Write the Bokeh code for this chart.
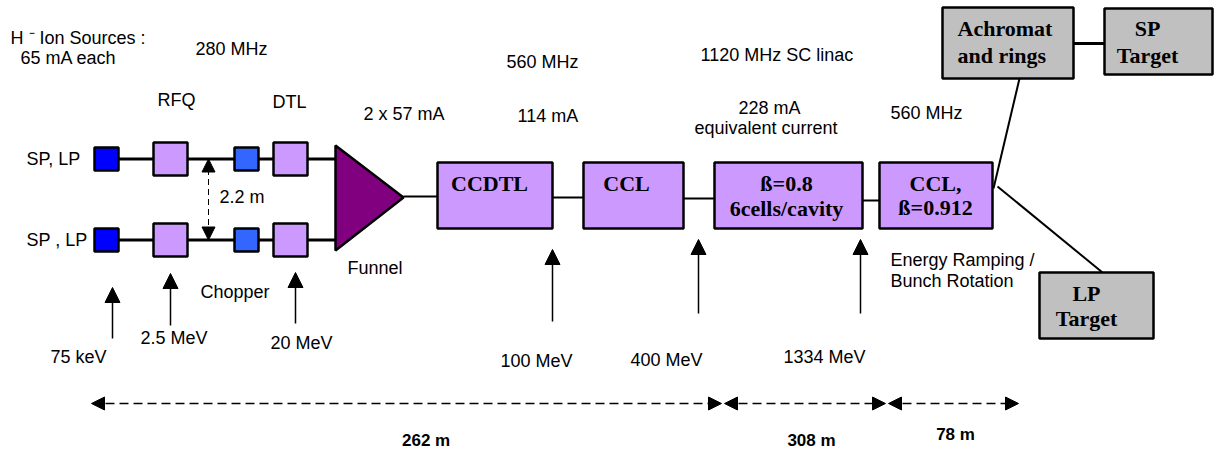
from bokeh.plotting import figure
from bokeh.models import Range1d, Arrow, NormalHead
from bokeh.core.properties import value
from bokeh.embed import file_html
from bokeh.resources import INLINE

# ---------------- content ----------------
ion_source_text = ["H \u207b Ion Sources :", "65 mA each"]
beam_labels = ["SP, LP", "SP , LP"]
front_end_names = ["RFQ", "DTL"]
frequencies = ["280 MHz", "560 MHz", "1120 MHz SC linac", "560 MHz"]
currents = ["2  x 57 mA", "114 mA", "228 mA", "equivalent current"]
energies = ["75 keV", "2.5 MeV", "20 MeV", "100 MeV", "400  MeV", "1334 MeV"]
linac_sections = [["CCDTL"], ["CCL"], ["\u00df=0.8", "6cells/cavity"], ["CCL,", "\u00df=0.912"]]
target_boxes = [["Achromat", "and rings"], ["SP", "Target"], ["LP", "Target"]]
section_lengths = ["262  m", "308 m", "78 m"]
misc_labels = ["2.2 m", "Funnel", "Chopper", "Energy Ramping /", "Bunch Rotation"]

# ---------------- layout (picture pixel coordinates) ----------------
ROWS = [158.5, 239.5]
SRC_X, RFQ_X, CHOP_X, DTL_X = 106, 170, 246, 290
SMALL, BIG = 24, 34
FUNNEL_X, FUNNEL_Y = [335, 335, 403], [145, 250, 197]
LINAC_X = [(437, 552), (583, 683), (714, 862), (879, 992)]
LINAC_Y = (162, 228)
LINAC_LINK_Y = [196, 197, 198, 200]
LINAC_TEXT = [(489, [183]), (626, [183]), (786, [183, 208]), (935, [183, 207])]
TARGET_RECT = [(942, 1073, 7, 78), (1104, 1212, 8, 74), (1039, 1153, 272, 338)]
TARGET_TEXT = [(957, "left"), (1147, "center"), (1086, "center")]
TARGET_TEXT_Y = [[28, 55], [28, 55], [293, 318]]
ENERGY_X = [112, 170, 295, 552, 698, 860]
ENERGY_TIP = [287, 273, 272, 249, 239, 239]
ENERGY_TAIL = [338, 325, 323, 321, 313, 313]
ENERGY_LABEL = [(50, 356), (140, 337), (270, 342), (500, 360), (630, 359), (783, 356)]
DIM_Y = 403
DIM_SEG = [(91, 721), (724, 885), (888, 1018)]
DIM_LABEL = [(428, 440), (811, 440), (955, 434)]

SANS = "Liberation Sans"
SERIF = "Liberation Serif"
FS = "18px"
BFS = "22px"

W, H = 1217, 452
p = figure(width=W, height=H, x_range=Range1d(0, W), y_range=Range1d(H, 0),
           output_backend="svg", toolbar_location=None, min_border=0,
           x_axis_location=None, y_axis_location=None)
p.grid.visible = False
p.outline_line_color = None
p.background_fill_color = "white"
p.border_fill_color = "white"


def txt(xs, ys, texts, size=FS, font=SANS, style="normal", align="left"):
    p.text(x=xs, y=ys, text=texts, text_font=value(font), text_font_size=size,
           text_font_style=style, text_align=align, text_baseline="middle",
           text_color="black")


def boxes(cx, cy, w, h, color, lw=2.5):
    p.rect(x=cx, y=cy, width=w, height=h, fill_color=color, line_color="black",
           line_width=lw)


def head(size):
    return NormalHead(size=size, fill_color="black", line_color="black", line_width=1)


# beam lines of the two front ends
for y in ROWS:
    p.line(x=[SRC_X, FUNNEL_X[0]], y=[y, y], line_color="black", line_width=3)
# funnel
p.patch(x=FUNNEL_X, y=FUNNEL_Y, fill_color="#800080", line_color="black", line_width=2.5)
# links between linac sections
link_starts = [FUNNEL_X[2]] + [r for (_, r) in LINAC_X[:-1]]
for xs, (l, _), y in zip(link_starts, LINAC_X, LINAC_LINK_Y):
    p.line(x=[xs, l], y=[y, y], line_color="black", line_width=2)

# front-end boxes
for y in ROWS:
    boxes([SRC_X], [y], SMALL, 23, "#0000FF")
    boxes([CHOP_X], [y], SMALL, 23, "#3366FF")
    boxes([RFQ_X, DTL_X], [y, y], BIG, 33, "#CC99FF")

# linac boxes
p.quad(left=[a for a, _ in LINAC_X], right=[b for _, b in LINAC_X],
       top=[LINAC_Y[0]] * 4, bottom=[LINAC_Y[1]] * 4,
       fill_color="#CC99FF", line_color="black", line_width=2.5)

# lines to targets
p.line(x=[993, 1019], y=[188, 78], line_color="black", line_width=2)
p.line(x=[997, 1102], y=[186, 272], line_color="black", line_width=2)
p.line(x=[1073, 1104], y=[43, 43], line_color="black", line_width=3)

# target boxes
p.quad(left=[r[0] for r in TARGET_RECT], right=[r[1] for r in TARGET_RECT],
       top=[r[2] for r in TARGET_RECT], bottom=[r[3] for r in TARGET_RECT],
       fill_color="#C0C0C0", line_color="black", line_width=2.5)

# box texts
for (x, ys), lines in zip(LINAC_TEXT, linac_sections):
    txt([x] * len(lines), ys, lines, size=BFS, font=SERIF, style="bold", align="center")
for (x, al), ys, lines in zip(TARGET_TEXT, TARGET_TEXT_Y, target_boxes):
    txt([x] * len(lines), ys, lines, size=BFS, font=SERIF, style="bold", align=al)

# energy arrows
for x, tip, tail in zip(ENERGY_X, ENERGY_TIP, ENERGY_TAIL):
    p.add_layout(Arrow(end=head(15), x_start=x, y_start=tail, x_end=x, y_end=tip,
                       line_color="black", line_width=1.5))
txt([a for a, _ in ENERGY_LABEL], [b for _, b in ENERGY_LABEL], energies)

# 2.2 m separation
p.add_layout(Arrow(start=head(13), end=head(13),
                   x_start=208, y_start=ROWS[0], x_end=208, y_end=ROWS[1],
                   line_color="black", line_width=1, line_dash="6 4"))

# dimension line
for a, b in DIM_SEG:
    p.add_layout(Arrow(start=head(13), end=head(13),
                       x_start=a, y_start=DIM_Y, x_end=b, y_end=DIM_Y,
                       line_color="black", line_width=1.5, line_dash="9 5"))
txt([a for a, _ in DIM_LABEL], [b for _, b in DIM_LABEL], section_lengths,
    size="17px", style="bold", align="center")

# plain texts
txt([10, 20], [37, 57], ion_source_text)
txt([26, 26], ROWS, beam_labels)
txt([157, 272], [99, 101], front_end_names)
txt([195, 506, 700, 890], [48, 61, 54, 112], frequencies)
txt([363, 517, 738, 694], [113, 115, 107, 127], currents)
txt([219, 347, 200, 890, 890], [196, 267, 291, 259, 280], misc_labels)

open("out.html", "w").write(file_html(p, INLINE))
